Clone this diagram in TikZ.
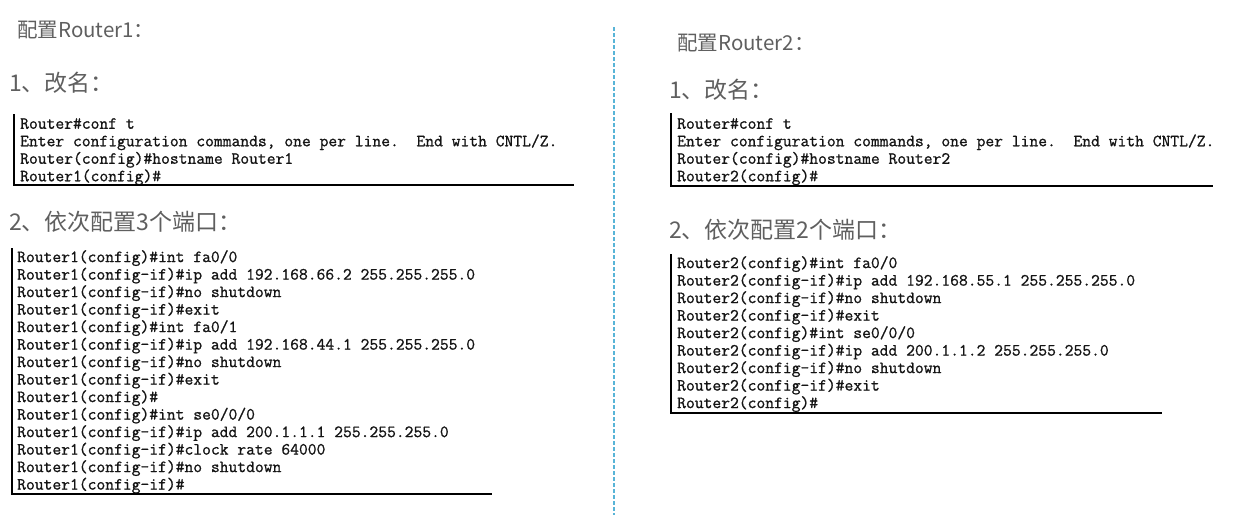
\documentclass[tikz,border=0pt]{standalone}
\usepackage{fontspec}
\newfontfamily\cjk{Noto Sans CJK SC}
\newfontfamily\codefont{Latin Modern Mono}[FakeBold=1]
\usetikzlibrary{positioning}
\definecolor{headgray}{RGB}{95,95,95}
\definecolor{codeink}{RGB}{20,20,20}
\definecolor{splitblue}{RGB}{88,180,215}

\begin{document}
\begin{tikzpicture}[
        x=1pt, y=-1pt,
        headnode/.style={anchor=west, inner sep=0pt, text=headgray, font=\cjk\fontsize{20.5}{24}\selectfont},
        stepnode/.style={anchor=west, inner sep=0pt, text=headgray, font=\cjk\fontsize{23}{27}\selectfont},
        codeblock/.style={anchor=north west, inner sep=0pt, align=left, text=codeink, font=\codefont\fontsize{17.1}{17.5}\selectfont},
        boxline/.style={draw=black, line width=2.5pt},
        splitline/.style={draw=splitblue, line width=1.3pt, dash pattern=on 3.5pt off 2.5pt}
        ]
        \useasboundingbox (0,0) rectangle (1238,515);

        % Router1
        \node[headnode]     (head_1)    at (17,30)      {配置Router1：};
        \node[stepnode]     (step_11)   at (9,83)       {1、改名：};
        \node[codeblock]    (code_11)   at (20,118)     {Router\#conf t\\
            Enter configuration commands, one per line.\ \ End with CNTL/Z.\\
            Router(config)\#hostname Router1\\
            Router1(config)\#};
        \node[stepnode]     (step_12)   at (9,222)      {2、依次配置3个端口：};
        \node[codeblock]    (code_12)   at (17,250)     {Router1(config)\#int fa0/0\\
            Router1(config-if)\#ip add 192.168.66.2 255.255.255.0\\
            Router1(config-if)\#no shutdown\\
            Router1(config-if)\#exit\\
            Router1(config)\#int fa0/1\\
            Router1(config-if)\#ip add 192.168.44.1 255.255.255.0\\
            Router1(config-if)\#no shutdown\\
            Router1(config-if)\#exit\\
            Router1(config)\#\\
            Router1(config)\#int se0/0/0\\
            Router1(config-if)\#ip add 200.1.1.1 255.255.255.0\\
            Router1(config-if)\#clock rate 64000\\
            Router1(config-if)\#no shutdown\\
            Router1(config-if)\#};
        \draw[boxline] (14,114) |- (574,185);
        \draw[boxline] (12,248) |- (492,494);

        % divider
        \draw[splitline] (614,27) -- (614,515);

        % Router2
        \node[headnode]     (head_2)    at (677,43)     {配置Router2：};
        \node[stepnode]     (step_21)   at (669,90)     {1、改名：};
        \node[codeblock]    (code_21)   at (677,118)    {Router\#conf t\\
            Enter configuration commands, one per line.\ \ End with CNTL/Z.\\
            Router(config)\#hostname Router2\\
            Router2(config)\#};
        \node[stepnode]     (step_22)   at (669,230)    {2、依次配置2个端口：};
        \node[codeblock]    (code_22)   at (677,256)    {Router2(config)\#int fa0/0\\
            Router2(config-if)\#ip add 192.168.55.1 255.255.255.0\\
            Router2(config-if)\#no shutdown\\
            Router2(config-if)\#exit\\
            Router2(config)\#int se0/0/0\\
            Router2(config-if)\#ip add 200.1.1.2 255.255.255.0\\
            Router2(config-if)\#no shutdown\\
            Router2(config-if)\#exit\\
            Router2(config)\#};
        \draw[boxline] (671,113) |- (1213,186);
        \draw[boxline] (671,254) |- (1162,413);
    \end{tikzpicture}
\end{document}
